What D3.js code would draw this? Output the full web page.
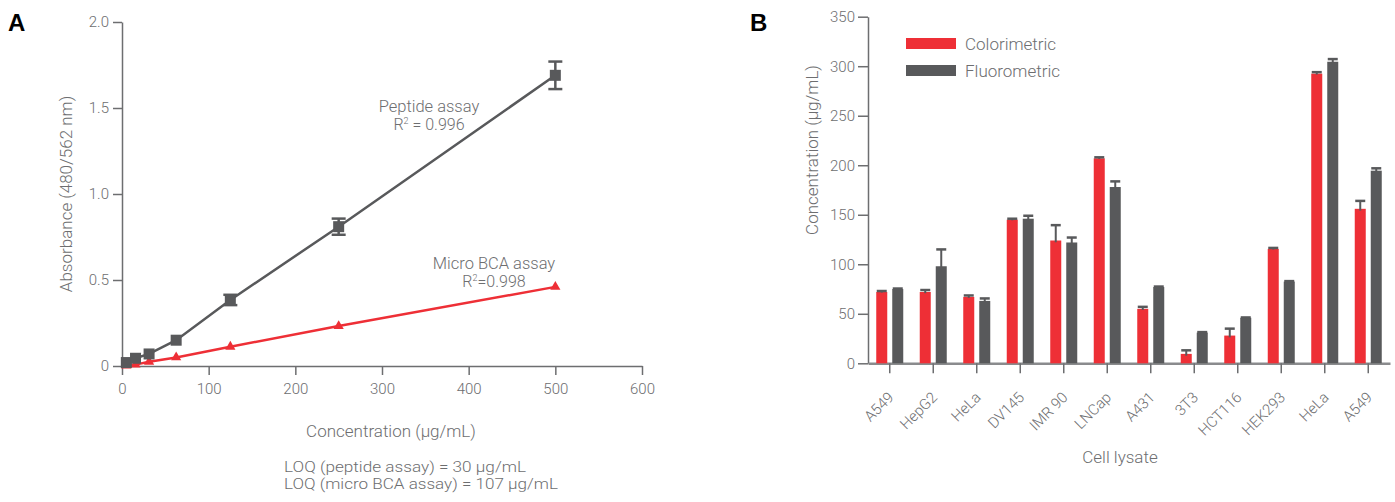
<!DOCTYPE html>
<html>
<head>
<meta charset="utf-8">
<script src="https://cdn.jsdelivr.net/npm/d3@7"></script>
<style>
  body { margin: 0; background: #fff; }
  text { font-family: Roboto, "Liberation Sans", sans-serif; font-weight: 300; }
</style>
</head>
<body>
<div id="chart"></div>
<script>
// ---- panel A data ----
const concentrations = [5, 15.6, 31.25, 62.5, 125, 250, 500];
const peptideAbs = [0.02, 0.045, 0.07, 0.15, 0.384, 0.81, 1.69];
const peptideErr = [0, 0, 0, 0, 0.03, 0.047, 0.08];
const bcaAbs = [0.003, 0.008, 0.025, 0.05, 0.112, 0.232, 0.46];
const absTicks = [0, 0.5, 1.0, 1.5, 2.0];
const concTicks = [0, 100, 200, 300, 400, 500, 600];

// ---- panel B data ----
const lysates = ['A549', 'HepG2', 'HeLa', 'DV145', 'IMR 90', 'LNCap', 'A431', '3T3', 'HCT116', 'HEK293', 'HeLa', 'A549'];
const colorimetric = [72, 72, 67, 145, 124, 207, 55, 9.5, 28, 115.5, 292.5, 156];
const colorimetricErr = [1, 2, 1.5, 1, 15.5, 1, 2, 3.6, 7, 1, 1.5, 8];
const fluorometric = [75, 98, 63, 146, 122, 178, 77, 31, 46, 82.5, 304.5, 194.5];
const fluorometricErr = [0.5, 17, 2.5, 3, 5, 5.7, 0.5, 0.5, 0.3, 0.5, 2.7, 2.4];
const concB_Ticks = [0, 50, 100, 150, 200, 250, 300, 350];

const RED = '#ee2f36';
const GRAY = '#58595b';
const AXIS = '#6d6e70';
const LABEL = '#6d6e70';

const svg = d3.select('#chart').append('svg').attr('width', 1395).attr('height', 502);

function styleAxis(g){
    g.select('.domain').attr('stroke', AXIS).attr('stroke-width', 1.5);
    g.selectAll('.tick line').attr('stroke', AXIS).attr('stroke-width', 1.5);
    g.selectAll('.tick text').attr('fill', LABEL).style('font-size', '15px')
        .style('font-family', 'Roboto, "Liberation Sans", sans-serif').style('font-weight', 300);
}

// ================= Panel A =================
const xA = d3.scaleLinear().domain([0, 600]).range([122, 642]);
const yA = d3.scaleLinear().domain([0, 2]).range([366, 22]);

svg.append('text').attr('x', 8).attr('y', 31).text('A')
    .style('font-family', '"Liberation Sans", Arial, sans-serif').style('font-weight', 700).style('font-size', '24px');

svg.append('g')
    .attr('class', 'left-axis')
    .attr('transform', `translate(${xA(0)},0)`)
    .call(d3.axisLeft(yA).tickValues(absTicks).tickSize(9).tickPadding(4).tickSizeOuter(0)
        .tickFormat(d => d === 0 ? '0' : d3.format('.1f')(d)))
    .call(styleAxis);

svg.append('g')
    .attr('class', 'bottom-axis')
    .attr('transform', `translate(0,${yA(0)})`)
    .call(d3.axisBottom(xA).tickValues(concTicks).tickSize(9).tickPadding(8).tickSizeOuter(0))
    .call(styleAxis);

svg.append('text')
    .attr('transform', `translate(72,${(yA(0)+yA(2))/2}) rotate(-90)`)
    .attr('text-anchor', 'middle')
    .attr('fill', LABEL).style('font-size', '17px')
    .text('Absorbance (480/562 nm)');

svg.append('text')
    .attr('x', 391).attr('y', 437)
    .attr('text-anchor', 'middle')
    .attr('fill', LABEL).style('font-size', '17px')
    .text('Concentration (µg/mL)');

svg.append('text').attr('x', 284).attr('y', 472).attr('fill', LABEL).style('font-size', '15px')
    .attr('textLength', 242).attr('lengthAdjust', 'spacingAndGlyphs')
    .text('LOQ (peptide assay) = 30 µg/mL');
svg.append('text').attr('x', 284).attr('y', 489).attr('fill', LABEL).style('font-size', '15px')
    .attr('textLength', 274).attr('lengthAdjust', 'spacingAndGlyphs')
    .text('LOQ (micro BCA assay) = 107 µg/mL');

const lineA = (vals) => d3.line().x((d, i) => xA(concentrations[i])).y(d => yA(d))(vals);

// micro BCA line + triangles
svg.append('path').attr('d', lineA(bcaAbs)).attr('fill', 'none').attr('stroke', RED).attr('stroke-width', 2.5);
svg.append('g').selectAll('path')
    .data(bcaAbs)
    .join('path')
    .attr('transform', (d, i) => `translate(${xA(concentrations[i])},${yA(d)})`)
    .attr('d', d3.symbol(d3.symbolTriangle, 45))
    .attr('fill', RED);

// peptide line + squares + error bars
svg.append('path').attr('d', lineA(peptideAbs)).attr('fill', 'none').attr('stroke', GRAY).attr('stroke-width', 2.5);
const pepPoints = peptideAbs.map((v, i) => ({ x: concentrations[i], y: v, err: peptideErr[i] }));
const pep = svg.append('g').selectAll('g')
    .data(pepPoints)
    .join('g')
    .attr('transform', d => `translate(${xA(d.x)},0)`);
const withErr = pep.filter(d => d.err > 0);
withErr.append('line')
    .attr('y1', d => yA(d.y - d.err)).attr('y2', d => yA(d.y + d.err))
    .attr('stroke', GRAY).attr('stroke-width', 2.5);
[-1, 1].forEach(sign => {
    withErr.append('line')
        .attr('x1', -7).attr('x2', 7)
        .attr('y1', d => yA(d.y + sign * d.err)).attr('y2', d => yA(d.y + sign * d.err))
        .attr('stroke', GRAY).attr('stroke-width', 2.5);
});
pep.append('rect')
    .attr('x', -5.5).attr('width', 11).attr('height', 11)
    .attr('y', d => yA(d.y) - 5.5)
    .attr('fill', GRAY);

// annotations
function rSquared(x, y, value){
    const t = svg.append('text').attr('x', x).attr('y', y).attr('text-anchor', 'middle')
        .attr('fill', LABEL).style('font-size', '16px');
    t.append('tspan').text('R');
    t.append('tspan').attr('dy', -6).style('font-size', '9px').text('2');
    t.append('tspan').attr('dy', 6).text(value);
}
svg.append('text').attr('x', 429).attr('y', 112).attr('text-anchor', 'middle').attr('fill', LABEL)
    .style('font-size', '16.5px').text('Peptide assay');
rSquared(429, 130, ' = 0.996');

svg.append('text').attr('x', 494).attr('y', 269).attr('text-anchor', 'middle').attr('fill', LABEL)
    .style('font-size', '16.5px').text('Micro BCA assay');
rSquared(494, 287, '=0.998');

// ================= Panel B =================
const xB = d3.scaleBand().domain(d3.range(lysates.length)).range([868, 1390]);
const yB = d3.scaleLinear().domain([0, 350]).range([363.3, 16.7]);

svg.append('text').attr('x', 750).attr('y', 31).text('B')
    .style('font-family', '"Liberation Sans", Arial, sans-serif').style('font-weight', 700).style('font-size', '24px');

svg.append('g')
    .attr('transform', `translate(${xB.range()[0]},0)`)
    .call(d3.axisLeft(yB).tickValues(concB_Ticks).tickSize(10).tickPadding(3).tickSizeOuter(0))
    .call(styleAxis);

const bAxis = svg.append('g')
    .attr('transform', `translate(0,${yB(0)})`)
    .call(d3.axisBottom(xB).tickSize(10).tickSizeOuter(0).tickFormat(i => lysates[i]))
    .call(styleAxis);
bAxis.select('.domain').attr('stroke', '#8a8b8d').attr('stroke-width', 2.5);
bAxis.selectAll('.tick text')
    .attr('text-anchor', 'end')
    .attr('x', 0).attr('y', 0).attr('dy', 0)
    .attr('transform', 'translate(5,35) rotate(-45)');

svg.append('text')
    .attr('transform', `translate(818,150) rotate(-90)`)
    .attr('text-anchor', 'middle')
    .attr('fill', LABEL).style('font-size', '17px')
    .text('Concentration (µg/mL)');

svg.append('text')
    .attr('x', 1120).attr('y', 463)
    .attr('text-anchor', 'middle')
    .attr('fill', LABEL).style('font-size', '17px')
    .text('Cell lysate');

const series = [
    { name: 'Colorimetric', values: colorimetric, err: colorimetricErr, color: RED, dx: -13.5 },
    { name: 'Fluorometric', values: fluorometric, err: fluorometricErr, color: GRAY, dx: 2.5 }
];
const barW = 11;

series.forEach(s => {
    const g = svg.append('g');
    g.selectAll('rect')
        .data(s.values)
        .join('rect')
        .attr('x', (d, i) => xB(i) + xB.bandwidth()/2 + s.dx)
        .attr('width', barW)
        .attr('y', d => yB(d))
        .attr('height', d => yB(0) - yB(d))
        .attr('fill', s.color);
    const eb = g.selectAll('g.err')
        .data(s.values)
        .join('g')
        .attr('class', 'err')
        .attr('transform', (d, i) => `translate(${xB(i) + xB.bandwidth()/2 + s.dx + barW/2},0)`);
    eb.append('line')
        .attr('y1', (d, i) => yB(d - Math.min(s.err[i], 3) * 0.6))
        .attr('y2', (d, i) => yB(d + s.err[i]))
        .attr('stroke', GRAY).attr('stroke-width', 2);
    eb.append('line')
        .attr('x1', -5).attr('x2', 5)
        .attr('y1', (d, i) => yB(d + s.err[i]))
        .attr('y2', (d, i) => yB(d + s.err[i]))
        .attr('stroke', GRAY).attr('stroke-width', 2.5);
});

// legend
const legend = svg.append('g').selectAll('g')
    .data(series)
    .join('g')
    .attr('transform', (d, i) => `translate(906,${38 + i*27})`);
legend.append('rect').attr('width', 50).attr('height', 11).attr('fill', d => d.color);
legend.append('text').attr('x', 59).attr('y', 12).attr('fill', LABEL).style('font-size', '17px').text(d => d.name);
</script>
</body>
</html>
